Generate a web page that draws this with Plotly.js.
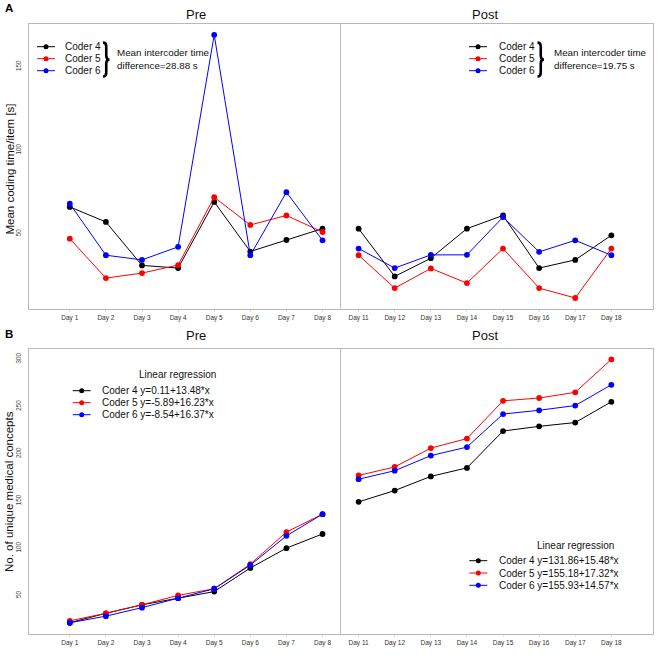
<!DOCTYPE html>
<html>
<head>
<meta charset="utf-8">
<script src="https://cdn.plot.ly/plotly-3.0.1.min.js"></script>
<style>html,body{margin:0;padding:0;background:#fff;}#chart{width:672px;height:659px;}</style>
</head>
<body>
<div id="chart"></div>
<script>
// ---------- data ----------
const days = ['Day 1','Day 2','Day 3','Day 4','Day 5','Day 6','Day 7','Day 8',
              'Day 11','Day 12','Day 13','Day 14','Day 15','Day 16','Day 17','Day 18'];
const preDays = days.slice(0, 8);
const postDays = days.slice(8);
const coders = ['Coder 4', 'Coder 5', 'Coder 6'];

// Panel A: mean coding time per item [s]
const timeC4Pre  = [66, 57, 31, 29.4, 69, 39.3, 46.2, 53];
const timeC5Pre  = [47, 23.4, 26.4, 31.2, 71.8, 55.2, 60.9, 51];
const timeC6Pre  = [67.9, 37.1, 34.3, 42.1, 169, 37.1, 74.8, 46];
const timeC4Post = [53, 24.4, 35.3, 53, 60.9, 29.4, 34.3, 49];
const timeC5Post = [37.1, 17.4, 29.2, 20.4, 41.1, 17.4, 11.5, 41.1];
const timeC6Post = [41.1, 29.4, 37.3, 37.3, 59.9, 39.1, 46, 37.1];

// Panel B: number of unique medical concepts
const conceptsC4Pre  = [21, 31, 40, 47, 54, 79, 100, 115];
const conceptsC5Pre  = [23, 31, 40, 50, 57, 83, 117, 136];
const conceptsC6Pre  = [21, 28, 37, 47, 57, 82, 113, 136];
const conceptsC4Post = [149, 161, 176, 185, 224, 229, 233, 255];
const conceptsC5Post = [177, 186, 206, 216, 256, 259, 265, 300];
const conceptsC6Post = [173, 182, 198, 207, 242, 246, 251, 273];

const meanDiffPre = 'difference=28.88 s';
const meanDiffPost = 'difference=19.75 s';
const regPre  = ['Coder 4 y=0.11+13.48*x', 'Coder 5 y=-5.89+16.23*x', 'Coder 6 y=-8.54+16.37*x'];
const regPost = ['Coder 4 y=131.86+15.48*x', 'Coder 5 y=155.18+17.32*x', 'Coder 6 y=155.93+14.57*x'];
const yTicksA = [50, 100, 150];
const yTicksB = [50, 100, 150, 200, 250, 300];

// ---------- styling ----------
const colors = ['#000000', '#ff0000', '#0000ff'];
const W = 672, H = 659;
const FONT = 'Liberation Sans, Arial, Helvetica, sans-serif';
const px = x => x / W;
const py = y => 1 - y / H;
const frameColor = '#b8b8b8';

function series(x, y, color, xa, ya) {
  return {x: x, y: y, xaxis: xa, yaxis: ya, type: 'scatter', mode: 'lines+markers',
          line: {color: color, width: 1}, marker: {color: color, size: 5.8},
          showlegend: false, hoverinfo: 'skip'};
}

const traces = [];
const timePre = [timeC4Pre, timeC5Pre, timeC6Pre];
const timePost = [timeC4Post, timeC5Post, timeC6Post];
const concPre = [conceptsC4Pre, conceptsC5Pre, conceptsC6Pre];
const concPost = [conceptsC4Post, conceptsC5Post, conceptsC6Post];
for (let i = 0; i < 3; i++) {
  traces.push(series(preDays, timePre[i], colors[i], 'x', 'y'));
  traces.push(series(postDays, timePost[i], colors[i], 'x', 'y'));
}
for (let i = 0; i < 3; i++) {
  traces.push(series(preDays, concPre[i], colors[i], 'x2', 'y2'));
  traces.push(series(postDays, concPost[i], colors[i], 'x2', 'y2'));
}

const xRange = [-1.13, 16.14];
function xAxis(anchor) {
  return {domain: [px(29), px(652.5)], anchor: anchor, type: 'category',
          categoryorder: 'array', categoryarray: days, range: xRange,
          showline: true, linecolor: frameColor, linewidth: 1, mirror: true,
          showgrid: false, zeroline: false, ticks: 'outside', ticklen: 2, tickcolor: '#dddddd',
          tickfont: {family: FONT, size: 6.5, color: '#333'}, ticklabelstandoff: 1, fixedrange: true};
}
function yAxis(anchor, dom, range, ticks) {
  return {domain: dom, anchor: anchor, range: range, tickvals: ticks, ticktext: ticks.map(String),
          showline: true, linecolor: frameColor, linewidth: 1, mirror: true,
          showgrid: false, zeroline: false, ticks: '', tickangle: -90,
          tickfont: {family: FONT, size: 6.3, color: '#444'}, ticklabelstandoff: 4, fixedrange: true};
}

const shapes = [];
const annotations = [];

// dividers between Pre and Post
shapes.push({type: 'line', xref: 'x', yref: 'y domain', x0: 7.5, x1: 7.5, y0: 0, y1: 1,
             line: {color: frameColor, width: 1}});
shapes.push({type: 'line', xref: 'x2', yref: 'y2 domain', x0: 7.5, x1: 7.5, y0: 0, y1: 1,
             line: {color: frameColor, width: 1}});

function legendEntry(xl, xr, y, color, label, textX) {
  shapes.push({type: 'line', xref: 'paper', yref: 'paper', x0: px(xl), x1: px(xr), y0: py(y), y1: py(y),
               line: {color: color, width: 1}});
  const xm = (xl + xr) / 2;
  shapes.push({type: 'circle', xref: 'paper', yref: 'paper', xsizemode: 'pixel', ysizemode: 'pixel',
               xanchor: px(xm), yanchor: py(y), x0: -2.5, x1: 2.5, y0: -2.5, y1: 2.5,
               fillcolor: color, line: {color: color, width: 0}});
  annotations.push({xref: 'paper', yref: 'paper', x: px(textX), y: py(y), xanchor: 'left', yanchor: 'middle',
                    text: label, showarrow: false, font: {family: FONT, size: 10, color: '#111'}});
}
function brace(x0, x1, yTop, yBot) {
  const xm = (x0 + x1) / 2, ym = (yTop + yBot) / 2, r = 4;
  const P = (x, y) => px(x).toFixed(5) + ',' + py(y).toFixed(5);
  const path = 'M' + P(x0, yTop) + ' Q' + P(xm, yTop) + ' ' + P(xm, yTop + r) +
               ' L' + P(xm, ym - r) + ' Q' + P(xm, ym) + ' ' + P(x1, ym) +
               ' Q' + P(xm, ym) + ' ' + P(xm, ym + r) +
               ' L' + P(xm, yBot - r) + ' Q' + P(xm, yBot) + ' ' + P(x0, yBot);
  shapes.push({type: 'path', xref: 'paper', yref: 'paper', path: path, line: {color: '#000', width: 2.6}});
}
function meanText(x, y1, y2, second) {
  annotations.push({xref: 'paper', yref: 'paper', x: px(x), y: py(y1), xanchor: 'left', yanchor: 'middle',
                    text: 'Mean intercoder time', showarrow: false, font: {family: FONT, size: 9.8, color: '#111'}});
  annotations.push({xref: 'paper', yref: 'paper', x: px(x), y: py(y2), xanchor: 'left', yanchor: 'middle',
                    text: second, showarrow: false, font: {family: FONT, size: 9.8, color: '#111'}});
}

// Panel A legends
const legYA = [46.7, 58.7, 70.7];
for (let i = 0; i < 3; i++) legendEntry(37, 55, legYA[i], colors[i], coders[i], 63);
brace(103, 109.5, 42.5, 76.5);
meanText(115, 52.7, 65.7, meanDiffPre);
for (let i = 0; i < 3; i++) legendEntry(469, 487, legYA[i], colors[i], coders[i], 496.7);
brace(537.5, 544, 42.5, 76.5);
meanText(551.7, 52.7, 65.7, meanDiffPost);

// Panel B legends
annotations.push({xref: 'paper', yref: 'paper', x: px(177.7), y: py(374.3), xanchor: 'center', yanchor: 'middle',
                  text: 'Linear regression', showarrow: false, font: {family: FONT, size: 10, color: '#111'}});
const legYB1 = [390.7, 402.7, 414.7];
for (let i = 0; i < 3; i++) legendEntry(72.7, 90.7, legYB1[i], colors[i], regPre[i], 100);
annotations.push({xref: 'paper', yref: 'paper', x: px(575), y: py(545), xanchor: 'center', yanchor: 'middle',
                  text: 'Linear regression', showarrow: false, font: {family: FONT, size: 10, color: '#111'}});
const legYB2 = [560.7, 573, 585.3];
for (let i = 0; i < 3; i++) legendEntry(469.3, 487.3, legYB2[i], colors[i], regPost[i], 496.7);

// Panel titles
[['x', 15], ['x2', 335.5]].forEach(([xr, y]) => {
  annotations.push({xref: xr, yref: 'paper', x: 3.5, y: py(y), xanchor: 'center', yanchor: 'middle',
                    text: 'Pre', showarrow: false, font: {family: FONT, size: 13, color: '#111'}});
  annotations.push({xref: xr, yref: 'paper', x: 11.5, y: py(y), xanchor: 'center', yanchor: 'middle',
                    text: 'Post', showarrow: false, font: {family: FONT, size: 13, color: '#111'}});
});
// Panel letters
annotations.push({xref: 'paper', yref: 'paper', x: px(8.5), y: py(8.5), xanchor: 'center', yanchor: 'middle',
                  text: '<b>A</b>', showarrow: false, font: {family: FONT, size: 11.5, color: '#000'}});
annotations.push({xref: 'paper', yref: 'paper', x: px(8.5), y: py(334), xanchor: 'center', yanchor: 'middle',
                  text: '<b>B</b>', showarrow: false, font: {family: FONT, size: 11.5, color: '#000'}});
// Y titles
annotations.push({xref: 'paper', yref: 'paper', x: px(9.5), y: py(169), xanchor: 'center', yanchor: 'middle',
                  textangle: -90, text: 'Mean coding time/item [s]', showarrow: false,
                  font: {family: FONT, size: 11.5, color: '#111'}});
annotations.push({xref: 'paper', yref: 'paper', x: px(9.5), y: py(491.5), xanchor: 'center', yanchor: 'middle',
                  textangle: -90, text: 'No. of unique medical concepts', showarrow: false,
                  font: {family: FONT, size: 11.5, color: '#111'}});

const layout = {
  width: W, height: H,
  margin: {l: 0, r: 0, t: 0, b: 0},
  paper_bgcolor: '#ffffff', plot_bgcolor: '#ffffff',
  font: {family: FONT},
  showlegend: false,
  xaxis: xAxis('y'),
  yaxis: yAxis('x', [py(308.5), py(24)], [5.2, 175.5], yTicksA),
  xaxis2: xAxis('y2'),
  yaxis2: yAxis('x2', [py(633.5), py(349)], [9.6, 310.9], yTicksB),
  shapes: shapes,
  annotations: annotations
};

Plotly.newPlot('chart', traces, layout, {displayModeBar: false, staticPlot: true});
</script>
</body>
</html>
